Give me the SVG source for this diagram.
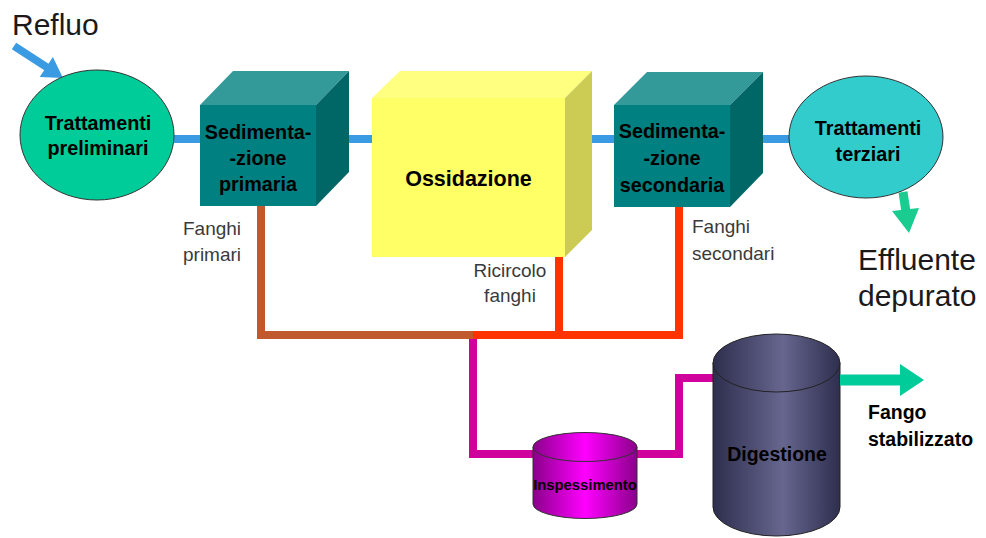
<svg xmlns="http://www.w3.org/2000/svg" width="986" height="538" viewBox="0 0 986 538">
<style>
text{font-family:"Liberation Sans",Arial,sans-serif}
.b{font-weight:bold;fill:#000}
.lbl{font-size:19px;fill:#3a3a3a}
.big{font-size:30px;fill:#1a1a1a}
.pipe{fill:none;stroke-width:8;stroke-linejoin:miter;stroke-linecap:butt}
.blue{stroke:#3A9BE3}
.brown{stroke:#C05A2E}
.red{stroke:#FF3300}
.mag{stroke:#D1009C}
</style>
<defs>
<linearGradient id="gDig" x1="0" y1="0" x2="1" y2="0">
<stop offset="0" stop-color="#2E2E4E"/>
<stop offset="0.55" stop-color="#66668F"/>
<stop offset="1" stop-color="#2E2E4E"/>
</linearGradient>
<linearGradient id="gIns" x1="0" y1="0" x2="1" y2="0">
<stop offset="0" stop-color="#8A008A"/>
<stop offset="0.5" stop-color="#FF00FF"/>
<stop offset="1" stop-color="#8A008A"/>
</linearGradient>
</defs>
<rect width="986" height="538" fill="#FFFFFF"/>

<g id="refluo">
<text x="12" y="35" class="big">Refluo</text>
<line x1="14" y1="46" x2="48" y2="68" stroke="#3A9BE3" stroke-width="8"/>
<polygon points="63,78 39.7,77.1 52.9,57" fill="#3A9BE3"/>
</g>

<g id="connectors">
<line class="pipe blue" x1="174" y1="139" x2="201" y2="139"/>
<line class="pipe blue" x1="328" y1="139" x2="372" y2="139"/>
<line class="pipe blue" x1="582" y1="139" x2="614" y2="139"/>
<line class="pipe blue" x1="747" y1="139" x2="790" y2="139"/>
<polyline class="pipe brown" points="261,206 261,335 473,335"/>
<line class="pipe red" x1="473" y1="335" x2="683" y2="335"/>
<line class="pipe red" x1="559" y1="257" x2="559" y2="335"/>
<polyline class="pipe red" points="679,207 679,339"/>
<polyline class="pipe mag" points="473,339 473,454 534,454"/>
<polyline class="pipe mag" points="636,454 679,454 679,378 714,378"/>
</g>

<g id="tratt-prel">
<ellipse cx="97" cy="135" rx="77" ry="65" fill="#00CC99" stroke="#333" stroke-width="1"/>
<text x="98" y="130" class="b" font-size="19.8" text-anchor="middle">Trattamenti</text>
<text x="98" y="155" class="b" font-size="19.8" text-anchor="middle">preliminari</text>
</g>

<g id="sed-prim">
<polygon points="200,105 233,71 349,71 316,105" fill="#339999"/>
<polygon points="316,105 349,71 349,172 316,206" fill="#006666"/>
<rect x="200" y="105" width="116" height="101" fill="#008080"/>
<text x="258" y="139" class="b" font-size="19.8" text-anchor="middle">Sedimenta-</text>
<text x="258" y="165" class="b" font-size="19.8" text-anchor="middle">-zione</text>
<text x="258" y="191" class="b" font-size="19.8" text-anchor="middle">primaria</text>
</g>

<g id="ossidazione">
<polygon points="372,98 400,71 592,71 565,98" fill="#FFFF80"/>
<polygon points="565,98 592,71 592,230 565,257" fill="#CCCC55"/>
<rect x="372" y="98" width="193" height="159" fill="#FFFF66"/>
<text x="468.5" y="186" class="b" font-size="21.5" text-anchor="middle">Ossidazione</text>
</g>

<g id="sed-sec">
<polygon points="614,105 647,72 763,72 730,105" fill="#339999"/>
<polygon points="730,105 763,72 763,173 730,207" fill="#006666"/>
<rect x="614" y="105" width="116" height="102" fill="#008080"/>
<text x="672" y="138" class="b" font-size="19.8" text-anchor="middle">Sedimenta-</text>
<text x="672" y="165" class="b" font-size="19.8" text-anchor="middle">-zione</text>
<text x="672" y="192" class="b" font-size="19.8" text-anchor="middle">secondaria</text>
</g>

<g id="tratt-terz">
<ellipse cx="866" cy="137" rx="77" ry="61" fill="#33CCCC" stroke="#333" stroke-width="1"/>
<text x="868" y="135" class="b" font-size="19.8" text-anchor="middle">Trattamenti</text>
<text x="868" y="161" class="b" font-size="19.8" text-anchor="middle">terziari</text>
</g>

<g id="effluente">
<line x1="903" y1="192" x2="906" y2="212" stroke="#1ACC8F" stroke-width="9"/>
<polygon points="892,211 919,208 909,233" fill="#1ACC8F"/>
<text x="858" y="270" class="big">Effluente</text>
<text x="858" y="306" class="big">depurato</text>
</g>

<g id="labels">
<text x="183" y="235" class="lbl">Fanghi</text>
<text x="183" y="261" class="lbl">primari</text>
<text x="510" y="277" class="lbl" text-anchor="middle">Ricircolo</text>
<text x="510" y="302" class="lbl" text-anchor="middle">fanghi</text>
<text x="692" y="233" class="lbl">Fanghi</text>
<text x="692" y="260" class="lbl">secondari</text>
</g>

<g id="inspessimento">
<path d="M533,447 L533,504 A52,14.5 0 0 0 637,504 L637,447 Z" fill="url(#gIns)" stroke="#333" stroke-width="1"/>
<ellipse cx="585" cy="447" rx="52" ry="14.5" fill="url(#gIns)" stroke="#333" stroke-width="1"/>
<text x="585" y="490" class="b" font-size="14.8" text-anchor="middle">Inspessimento</text>
</g>

<g id="digestione">
<path d="M713,363 L713,507 A63.5,29 0 0 0 840,507 L840,363 Z" fill="url(#gDig)" stroke="#222" stroke-width="1"/>
<ellipse cx="776.5" cy="363" rx="63.5" ry="29" fill="url(#gDig)" stroke="#222" stroke-width="1"/>
<text x="777" y="461" class="b" font-size="19.5" text-anchor="middle">Digestione</text>
</g>

<g id="fango">
<line x1="840" y1="380" x2="901" y2="380" stroke="#00CC99" stroke-width="11"/>
<polygon points="900,364 924,380 900,396" fill="#00CC99"/>
<text x="868" y="419" class="b" font-size="19.5">Fango</text>
<text x="868" y="446" class="b" font-size="19.5">stabilizzato</text>
</g>
</svg>
